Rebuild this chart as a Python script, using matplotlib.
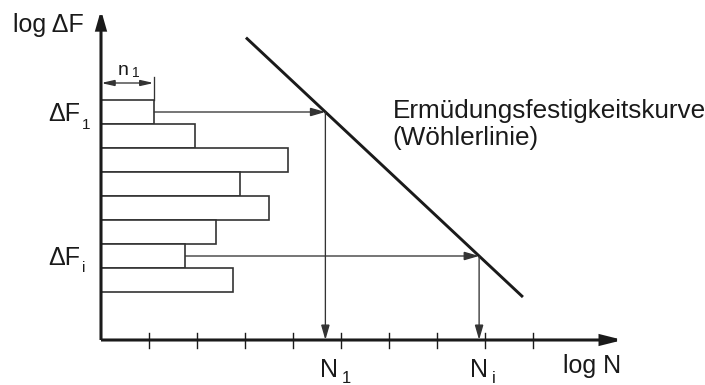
import matplotlib
matplotlib.use("Agg")
import matplotlib.pyplot as plt
from matplotlib.patches import FancyArrowPatch

plt.rcParams['font.family'] = ['Liberation Sans', 'DejaVu Sans']

# Load spectrum: stress-range classes (bottom edge of each class) and cycle counts
class_bottoms = [9, 8, 7, 6, 5, 4, 3, 2]
cycle_counts = [1.1, 1.95, 3.9, 2.9, 3.5, 2.4, 1.75, 2.75]
class_height = 1.0

# S-N curve (Wöhler line) end points in (log N, log dF)
woehler_x = [3.02, 8.79]
woehler_y = [12.6, 1.79]

# Tick positions on the log N axis
n_ticks = [1, 2, 3, 4, 5, 6, 7, 8, 9]

# Classes traced to the curve: first and i-th
traced = [0, 6]

INK = '#1a1a1a'
GREY = '#333333'

fig = plt.figure(figsize=(7.05, 3.85), dpi=100)
ax = fig.add_axes([0, 0, 1, 1])
ax.set_xlim(-101 / 48, 604 / 48)
ax.set_ylim(-45 / 24, 340 / 24)
ax.axis('off')


def arrow(p0, p1, style='-|>', lw=0.95, color=GREY, hl=9.0, hw=2.6):
    a = FancyArrowPatch(p0, p1,
                        arrowstyle=f'{style},head_length={hl},head_width={hw}',
                        mutation_scale=1, lw=lw, color=color,
                        shrinkA=0, shrinkB=0, joinstyle='miter',
                        capstyle='butt', zorder=4)
    ax.add_patch(a)


# Histogram of the load spectrum
ax.barh([b + class_height / 2 for b in class_bottoms], cycle_counts,
        height=class_height, left=0, facecolor='white', edgecolor=GREY,
        linewidth=1.2, zorder=2)

# Wöhler line
ax.plot(woehler_x, woehler_y, color=INK, lw=2.1, solid_capstyle='butt', zorder=3)
slope = (woehler_y[1] - woehler_y[0]) / (woehler_x[1] - woehler_x[0])

# Trace selected classes to the curve and down to the N axis
for k in traced:
    yc = class_bottoms[k] + class_height / 2
    xc = woehler_x[0] + (yc - woehler_y[0]) / slope
    arrow((cycle_counts[k], yc), (xc, yc))
    arrow((xc, yc), (xc, 0))

# Axes with arrowheads
arrow((0, 0), (0, 13.75), lw=2.2, color=INK, hl=10.5, hw=3.0)
arrow((0, 0), (10.875, 0), lw=2.2, color=INK, hl=12.0, hw=3.0)

# Tick marks on the log N axis
for t in n_ticks:
    ax.plot([t, t], [-0.33, 0.29], color=INK, lw=1.0, zorder=3)

# Dimension n1 above the first class
yd = (340 - 83) / 24
arrow((0, yd), (cycle_counts[0], yd), style='<|-|>', lw=0.95, hl=8.0, hw=1.8)
ax.plot([cycle_counts[0], cycle_counts[0]], [class_bottoms[0] + class_height, (340 - 77) / 24],
        color=GREY, lw=0.95, zorder=4)

BIG = 18
SUB = 11

# Labels
ax.text(-1.833, 12.83, 'log ΔF', fontsize=BIG, color=INK, ha='left', va='baseline')
ax.text(9.625, -1.375, 'log N', fontsize=BIG, color=INK, ha='left', va='baseline')

ax.text(-0.4375, 9.125, 'ΔF', fontsize=BIG, color=INK, ha='right', va='baseline')
ax.text(-0.396, 8.79, '1', fontsize=SUB, color=INK, ha='left', va='baseline')
ax.text(-0.4375, 3.125, 'ΔF', fontsize=BIG, color=INK, ha='right', va='baseline')
ax.text(-0.396, 2.83, 'i', fontsize=SUB, color=INK, ha='left', va='baseline')

ax.text(0.354, 11.04, 'n', fontsize=14, color=INK, ha='left', va='baseline')
ax.text(0.646, 10.96, '1', fontsize=10, color=INK, ha='left', va='baseline')

ax.text(4.5625, -1.54, 'N', fontsize=BIG, color=INK, ha='left', va='baseline')
ax.text(5.02, -1.79, '1', fontsize=12, color=INK, ha='left', va='baseline')
ax.text(7.6875, -1.54, 'N', fontsize=BIG, color=INK, ha='left', va='baseline')
ax.text(8.146, -1.81, 'i', fontsize=12, color=INK, ha='left', va='baseline')

ax.text(6.083, 9.25, 'Ermüdungsfestigkeitskurve', fontsize=18.8, color=INK,
        ha='left', va='baseline')
ax.text(6.0625, 8.125, '(Wöhlerlinie)', fontsize=18.8, color=INK,
        ha='left', va='baseline')

fig.savefig('out.png', dpi=100)
